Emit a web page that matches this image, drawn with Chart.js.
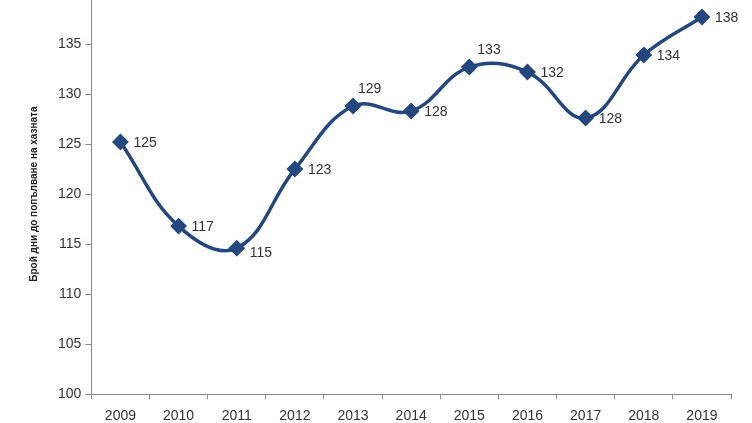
<!DOCTYPE html>
<html>
<head>
<meta charset="utf-8">
<script src="https://cdn.jsdelivr.net/npm/chart.js@4"></script>
<style>
  html, body { margin: 0; padding: 0; background: #fff; overflow: hidden; }
  #wrap { position: absolute; left: 0; top: -30px; width: 752px; height: 480px; }
</style>
</head>
<body>
<div id="wrap"><canvas id="myChart"></canvas></div>
<script>
const years = ["2009", "2010", "2011", "2012", "2013", "2014", "2015", "2016", "2017", "2018", "2019"]
const days = [125.2, 116.8, 114.6, 122.5, 128.8, 128.3, 132.7, 132.2, 127.6, 133.9, 137.7]
const dayLabels = ["125", "117", "115", "123", "129", "128", "133", "132", "128", "134", "138"]
const yTitle = "Брой дни до попълване на хазната"

// label nudges (2013 and 2015 sit above the line, 2011 a bit lower)
const labelDy = [0, 0, 4, 0, -18, 0, -18, 0, 0, 0, 0]
const labelDx = [13, 13, 13, 13, 5, 13, 8, 13, 13, 13, 13]

const valueLabels = {
    id: "valueLabels",
    afterDatasetsDraw(chart) {
        const c = chart.ctx
        c.save()
        c.font = "14px 'Liberation Sans', Arial, sans-serif"
        c.fillStyle = "#333"
        c.textBaseline = "middle"
        chart.getDatasetMeta(0).data.forEach((pt, i) => {
            c.fillText(dayLabels[i], pt.x + labelDx[i], pt.y + 1 + labelDy[i])
        })
        c.restore()
    }
}

const ctx = document.getElementById("myChart").getContext("2d")
new Chart(ctx, {
    type: "line",
    data: {
        labels: years,
        datasets: [{
            data: days,
            borderColor: "#24487e",
            backgroundColor: "#24487e",
            borderWidth: 3.5,
            tension: 0.4,
            pointStyle: "rectRot",
            pointRadius: 6,
            pointBackgroundColor: "#24487e"
        }]
    },
    options: {
        responsive: true,
        maintainAspectRatio: false,
        animation: false,
        layout: { padding: { top: 24, right: 21, left: 24, bottom: 16 } },
        plugins: { legend: { display: false }, tooltip: { enabled: false } },
        scales: {
            x: {
                offset: true,
                grid: { drawOnChartArea: false, offset: true, drawTicks: true, tickLength: 5, color: "#888" },
                border: { color: "#888" },
                ticks: { color: "#333", font: { size: 14, family: "'Liberation Sans', Arial" }, padding: 9 }
            },
            y: {
                min: 100,
                max: 140,
                grid: { drawOnChartArea: false, tickLength: 6, color: "#888" },
                border: { color: "#888" },
                ticks: { stepSize: 5, color: "#333", font: { size: 14, family: "'Liberation Sans', Arial" }, padding: 4 },
                title: {
                    display: true,
                    text: yTitle,
                    color: "#222",
                    font: { size: 10, weight: "bold", family: "'Liberation Sans', Arial" },
                    padding: { bottom: 14 }
                }
            }
        }
    },
    plugins: [valueLabels]
})
</script>
</body>
</html>
